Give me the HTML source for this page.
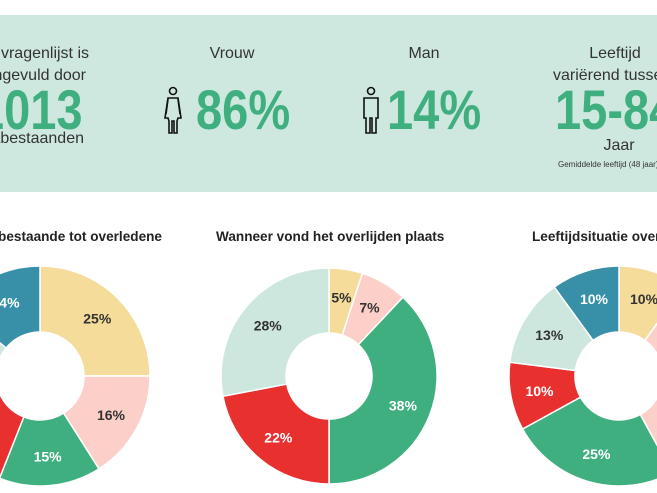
<!DOCTYPE html>
<html><head><meta charset="utf-8"><style>
body{margin:0;width:657px;height:493px;overflow:hidden;background:#fff;font-family:"Liberation Sans",sans-serif;position:relative}
.p{position:absolute;white-space:nowrap;color:#333}
.c{transform:translateX(-50%)}
.r{text-align:right}
.big{color:#3faf80;font-size:56px;font-weight:bold;display:inline-block;transform:scaleX(0.84);transform-origin:left top;line-height:60px}
.bigr{transform-origin:right top}
.t{font-size:13.6px;font-weight:bold;color:#222}
</style></head><body>
<div style="position:absolute;left:0;top:15px;width:657px;height:177px;background:#cfe8df"></div>
<div class="p" style="right:568px;top:45px;font-size:16px">De vragenlijst is</div>
<div class="p" style="right:571px;top:67px;font-size:16px">ingevuld door</div>
<div class="p" style="right:574px;top:80px"><span class="big bigr">1013</span></div>
<div class="p" style="right:573px;top:130px;font-size:16px">nabestaanden</div>

<div class="p c" style="left:232px;top:45px;font-size:16px">Vrouw</div>
<div class="p" style="left:196px;top:80px"><span class="big">86%</span></div>
<div class="p c" style="left:424px;top:45px;font-size:16px">Man</div>
<div class="p" style="left:387px;top:80px"><span class="big">14%</span></div>
<svg style="position:absolute;left:160px;top:86px" width="26" height="50" viewBox="0 0 26 50" fill="none" stroke="#111" stroke-width="1.6">
<circle cx="13" cy="5" r="3.5"/><path d="M8 12h10l3 20h-3l-1 3v12h-3V35h-2v12H9V35L8 32H5z"/><path d="M8 13l-2 15M18 13l2 15"/></svg>
<svg style="position:absolute;left:358px;top:86px" width="26" height="50" viewBox="0 0 26 50" fill="none" stroke="#111" stroke-width="1.6">
<circle cx="13" cy="5" r="3.5"/><path d="M6 12h14v20h-2v15h-4V32h-2v15H8V32H6z"/></svg>

<div class="p c" style="left:615px;top:45px;font-size:16px">Leeftijd</div>
<div class="p" style="left:553px;top:67px;font-size:16px">variërend tussen</div>
<div class="p" style="left:555px;top:80px"><span class="big">15-84</span></div>
<div class="p c" style="left:619px;top:137px;font-size:16px">Jaar</div>
<div class="p" style="left:558px;top:160px;font-size:8px">Gemiddelde leeftijd (48 jaar)</div>

<div class="p t" style="right:495px;top:229px">Relatie nabestaande tot overledene</div>
<div class="p t" style="left:216px;top:229px">Wanneer vond het overlijden plaats</div>
<div class="p t" style="left:532px;top:229px">Leeftijdsituatie overledene</div>

<svg id="s" style="position:absolute;left:0;top:0" width="657" height="493"></svg>
<script>
const col={y:"#f6dc9a",p:"#fcd0c8",g:"#3faf80",r:"#e8302f",l:"#cde7df",b:"#3890a8"};
function donut(cx,cy,R,r,segs){
 let s="",a=0;
 for(const [v,c,lab,tc] of segs){
  const a0=a*2*Math.PI/100-Math.PI/2,a1=(a+v)*2*Math.PI/100-Math.PI/2;a+=v;
  const L=v>50?1:0;
  const p=(ang,rad)=>(cx+rad*Math.cos(ang)).toFixed(2)+" "+(cy+rad*Math.sin(ang)).toFixed(2);
  s+=`<path d="M${p(a0,R)}A${R} ${R} 0 ${L} 1 ${p(a1,R)}L${p(a1,r)}A${r} ${r} 0 ${L} 0 ${p(a0,r)}Z" fill="${col[c]}" stroke="#fff" stroke-width="1.5"/>`;
  if(lab){const m=(a0+a1)/2,rr=(R+r)/2+4;
   s+=`<text x="${cx+rr*Math.cos(m)}" y="${cy+rr*Math.sin(m)+5}" text-anchor="middle" font-family="Liberation Sans,sans-serif" font-weight="bold" font-size="14" fill="${tc}">${lab}</text>`;}
 }
 return s;
}
document.getElementById("s").innerHTML=
 donut(40,376,110,44,[[25,"y","25%","#333"],[16,"p","16%","#333"],[15,"g","15%","#fff"],[20,"r","",""],[10,"l","",""],[14,"b","14%","#fff"]])+
 donut(329,376,108,43,[[5,"y","5%","#333"],[7,"p","7%","#333"],[38,"g","38%","#fff"],[22,"r","22%","#fff"],[28,"l","28%","#333"]])+
 donut(619,376,110,44,[[10,"y","10%","#333"],[32,"p","",""],[25,"g","25%","#fff"],[10,"r","10%","#fff"],[13,"l","13%","#333"],[10,"b","10%","#fff"]]);
</script>
</body></html>
